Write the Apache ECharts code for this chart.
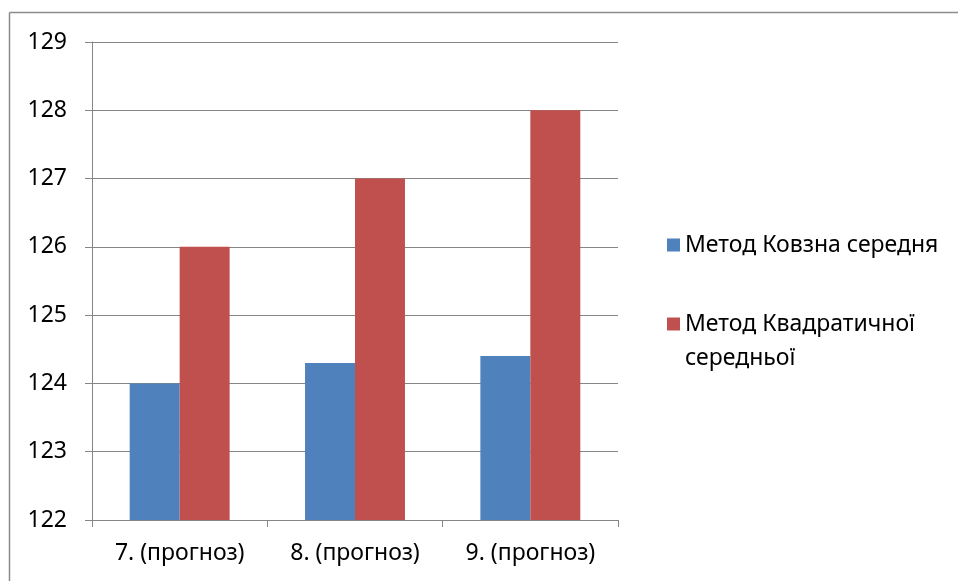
<!DOCTYPE html>
<html>
<head>
<meta charset="utf-8">
<script src="https://cdn.jsdelivr.net/npm/echarts@6/dist/echarts.min.js"></script>
<style>
  html, body { margin: 0; padding: 0; background: #fff; }
  #chart { width: 958px; height: 581px; }
</style>
</head>
<body>
<div id="chart"></div>
<script>
// Forecast periods and the two smoothing methods' forecasts
const categories = ['7. (прогноз)', '8. (прогноз)', '9. (прогноз)'];
const seriesNames = ['Метод Ковзна середня', 'Метод Квадратичної середньої'];
const movingAverage = [124.0, 124.3, 124.4];
const quadraticMean = [126, 127, 128];

const FONT = '"Noto Sans", "DejaVu Sans", sans-serif';
const GRID_COLOR = '#868686';

const chart = echarts.init(document.getElementById('chart'), null, { renderer: 'canvas' });

chart.setOption({
  backgroundColor: '#ffffff',
  animation: false,
  textStyle: { fontFamily: FONT, color: '#000' },
  grid: { left: 92, right: 340, top: 42, bottom: 61, containLabel: false },
  graphic: [
    // frame edges of the chart area
    { type: 'line', shape: { x1: 9.5, y1: 12.5, x2: 958, y2: 12.5 }, style: { stroke: '#8c8c8c', lineWidth: 1.5 } },
    { type: 'line', shape: { x1: 9.5, y1: 12.5, x2: 9.5, y2: 581 }, style: { stroke: '#8c8c8c', lineWidth: 1.5 } }
  ],
  legend: [
    {
      orient: 'vertical',
      left: 662,
      top: 223,
      itemWidth: 13,
      itemHeight: 13,
      icon: 'rect',
      data: [{ name: seriesNames[0] }],
      textStyle: { fontFamily: FONT, fontSize: 23, color: '#000', lineHeight: 34 },
      selectedMode: false
    },
    {
      orient: 'vertical',
      left: 662,
      top: 268,
      itemWidth: 13,
      itemHeight: 13,
      icon: 'rect',
      data: [{ name: seriesNames[1] }],
      // leading blank line keeps the marker level with the first text line
      formatter: function (name) { return '\n' + name.replace(' середньої', '\nсередньої'); },
      textStyle: { fontFamily: FONT, fontSize: 23, color: '#000', lineHeight: 34 },
      selectedMode: false
    }
  ],
  xAxis: {
    type: 'category',
    data: categories,
    axisLine: { lineStyle: { color: GRID_COLOR, width: 1 } },
    axisTick: { show: true, length: 7, lineStyle: { color: GRID_COLOR } },
    axisLabel: { color: '#000', fontSize: 23, fontFamily: FONT, margin: 22, interval: 0 }
  },
  yAxis: {
    type: 'value',
    min: 122,
    max: 129,
    interval: 1,
    axisLine: { show: true, lineStyle: { color: GRID_COLOR, width: 1 } },
    axisTick: { show: true, length: 7, lineStyle: { color: GRID_COLOR } },
    axisLabel: { color: '#000', fontSize: 23, fontFamily: FONT, margin: 25 },
    splitLine: { show: true, lineStyle: { color: GRID_COLOR, width: 1 } }
  },
  series: [
    {
      name: seriesNames[0],
      type: 'bar',
      data: movingAverage,
      barGap: '0%',
      barCategoryGap: '43%',
      itemStyle: { color: '#4F81BD' }
    },
    {
      name: seriesNames[1],
      type: 'bar',
      data: quadraticMean,
      barGap: '0%',
      barCategoryGap: '43%',
      itemStyle: { color: '#C0504D' }
    }
  ]
});
</script>
</body>
</html>
